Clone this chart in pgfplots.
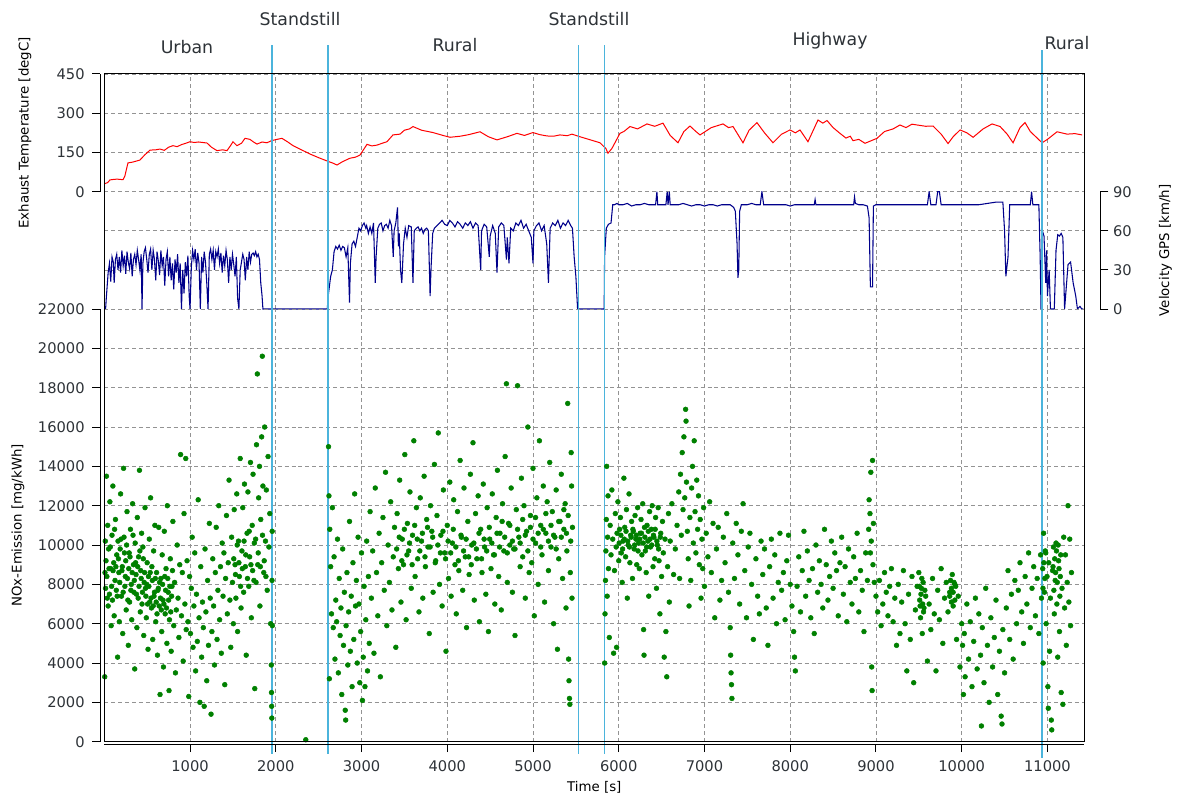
\documentclass[border=0pt]{standalone}
\usepackage{fontspec}
\setmainfont{DejaVu Sans}
\usepackage{pgfplots}
\pgfplotsset{compat=1.18}
\definecolor{tempred}{RGB}{255,0,0}
\definecolor{velblue}{RGB}{0,0,139}
\definecolor{noxgreen}{RGB}{0,128,0}
\definecolor{seg}{RGB}{75,180,220}
\definecolor{txt}{RGB}{45,50,55}
\pgfplotsset{
 base/.style={scale only axis, width=735pt, xmin=0, xmax=11430,
  anchor=south west,
  axis line style={draw=none},
  xmajorgrids, ymajorgrids,
  major grid style={gray!85, dash pattern=on 3pt off 2.2pt, line width=0.6pt},
  tick align=outside, major tick length=6pt,
  tick style={black, line width=0.7pt},
  xtick={1000,2000,...,11000},
  ticklabel style={font=\fontsize{11}{13}\selectfont, text=txt},
  /pgf/number format/assume math mode=true,
  /pgf/number format/1000 sep={},
  scaled ticks=false,
  label style={font=\fontsize{10.6}{12}\selectfont, text=txt},
 }
}
\begin{document}
\begin{tikzpicture}
\useasboundingbox (-78.225pt,-40.725pt) rectangle (806.775pt,556.275pt);
% ---------- top: exhaust temperature ----------
\begin{axis}[base, at={(0pt,412.5pt)}, height=88.3pt,
  ymin=0, ymax=450, ytick={0,150,300,450},
  xticklabels={}, xtick style={draw=none},
  ytick pos=left, ytick style={xshift=-3.2pt}, yticklabel style={xshift=-5.2pt},
  ylabel={Exhaust Temperature [degC]},
  every axis y label/.style={at={(axis description cs:-0.081,0.5)}, rotate=90, anchor=center}]
\addplot[tempred, line width=0.75pt] coordinates {
(0,30)(40,35)(66,45)(110,47)(148,48)(218,46)(240,60)(276,110)(330,113)(416,121)(470,140)(533,159)(600,160)(649,163)(700,158)(750,170)(801,176)(850,172)(900,180)(950,185)(999,191)(1050,188)(1100,190)(1198,186)(1250,170)(1314,157)(1380,160)(1431,157)(1470,175)(1501,191)(1547,176)(1600,185)(1641,204)(1699,200)(1740,190)(1781,182)(1840,190)(1897,187)(1950,195)(2014,200)(2072,204)(2140,190)(2201,176)(2300,160)(2399,144)(2500,130)(2609,116)(2660,110)(2714,102)(2780,115)(2866,128)(2930,132)(2982,140)(3064,181)(3120,175)(3180,178)(3240,185)(3297,191)(3367,217)(3449,220)(3500,235)(3560,240)(3600,249)(3700,235)(3834,226)(3950,215)(4032,208)(4150,212)(4250,218)(4382,229)(4480,210)(4580,198)(4700,210)(4813,223)(4900,215)(4999,226)(5080,218)(5163,213)(5240,212)(5314,217)(5400,214)(5454,220)(5548,210)(5650,200)(5781,187)(5850,165)(5874,147)(5920,165)(6014,223)(6060,230)(6131,249)(6220,240)(6329,259)(6420,250)(6516,262)(6600,215)(6691,187)(6760,230)(6831,251)(6900,230)(6948,217)(7080,245)(7216,259)(7280,245)(7333,249)(7449,187)(7520,235)(7612,264)(7700,225)(7799,187)(7900,220)(7997,236)(8060,225)(8114,236)(8207,191)(8324,274)(8380,262)(8429,272)(8500,245)(8580,223)(8650,205)(8700,212)(8732,195)(8800,200)(8872,185)(9012,204)(9100,230)(9200,240)(9280,255)(9350,245)(9420,258)(9479,255)(9580,250)(9666,251)(9760,220)(9841,184)(9900,210)(9981,236)(10060,225)(10133,208)(10250,240)(10354,259)(10448,249)(10530,220)(10599,187)(10680,245)(10739,264)(10800,230)(10880,205)(10937,187)(11000,200)(11112,229)(11229,220)(11320,222)(11404,217)
};
\end{axis}
% ---------- middle: velocity ----------
\begin{axis}[base, at={(0pt,324.5pt)}, height=88pt,
  ymin=0, ymax=90, ytick={0,30,60,90},
  xticklabels={}, xtick style={draw=none},
  ytick pos=right, yticklabel pos=right,
  ytick style={xshift=12pt}, yticklabel style={xshift=12pt},
  ylabel={Velocity GPS [km/h]},
  every axis y label/.style={at={(axis description cs:1.0827,0.5)}, rotate=90, anchor=center}]
\addplot[velblue, line width=0.8pt] coordinates {
(0,0)(15,0)(25,10)(45,28)(60,35)(75,21)(90,40)(105,36)(115,20)(130,38)(145,42)(160,30)(175,40)(190,28)(205,45)(220,33)(235,41)(250,27)(265,44)(280,36)(295,31)(310,43)(325,25)(340,38)(355,42)(370,34)(385,45)(400,38)(415,30)(430,42)(440,0)(450,35)(465,44)(480,47)(495,38)(510,28)(525,42)(540,46)(555,30)(570,45)(585,38)(600,22)(615,44)(630,37)(645,26)(660,45)(675,33)(690,40)(705,18)(720,38)(735,44)(750,25)(765,40)(780,22)(795,35)(810,15)(825,38)(840,28)(855,42)(870,20)(885,35)(900,0)(915,30)(930,12)(945,36)(960,25)(975,41)(990,10)(1000,0)(1015,32)(1030,45)(1045,38)(1060,46)(1075,30)(1090,43)(1105,35)(1120,0)(1135,40)(1150,28)(1165,44)(1180,36)(1195,20)(1210,0)(1225,42)(1240,46)(1255,38)(1270,45)(1285,30)(1300,44)(1315,40)(1330,46)(1345,35)(1360,43)(1375,28)(1390,41)(1405,33)(1420,45)(1435,38)(1450,20)(1465,40)(1480,30)(1495,42)(1510,34)(1525,25)(1540,40)(1555,8)(1570,0)(1585,30)(1600,36)(1615,42)(1630,38)(1645,22)(1660,40)(1675,30)(1690,44)(1705,36)(1720,42)(1735,43)(1750,41)(1765,44)(1780,40)(1795,42)(1810,38)(1825,20)(1840,10)(1850,0)(1957,0)(2600,0)
(2615,12)(2640,25)(2660,30)(2680,44)(2700,48)(2720,46)(2740,49)(2760,45)(2780,48)(2800,47)(2820,40)(2840,47)(2860,5)(2870,35)(2890,50)(2910,52)(2930,48)(2950,55)(2970,62)(2990,60)(3010,64)(3030,66)(3050,62)(3060,64)(3080,58)(3100,63)(3120,58)(3140,66)(3160,20)(3170,40)(3190,62)(3210,65)(3230,66)(3250,60)(3270,64)(3290,65)(3310,62)(3330,68)(3350,64)(3370,40)(3380,60)(3400,66)(3420,78)(3430,48)(3440,58)(3455,30)(3470,20)(3490,50)(3510,62)(3530,55)(3550,64)(3580,63)(3600,20)(3615,60)(3640,62)(3660,63)(3680,60)(3700,62)(3720,58)(3740,61)(3760,62)(3780,60)(3800,10)(3810,30)(3830,58)(3850,62)(3880,64)(3910,66)(3940,68)(3970,65)(4000,64)(4030,68)(4060,66)(4090,63)(4120,67)(4150,65)(4180,62)(4210,66)(4240,64)(4270,67)(4300,62)(4330,66)(4360,64)(4390,30)(4400,60)(4430,65)(4460,63)(4490,40)(4500,56)(4530,64)(4560,58)(4580,28)(4600,63)(4630,66)(4660,64)(4690,38)(4700,55)(4720,35)(4740,62)(4770,60)(4800,66)(4830,64)(4860,68)(4890,62)(4920,65)(4950,60)(4980,55)(5000,35)(5010,60)(5040,64)(5070,66)(5100,60)(5130,64)(5160,50)(5180,20)(5200,62)(5230,66)(5260,64)(5290,68)(5320,62)(5350,66)(5380,64)(5410,68)(5440,64)(5460,62)(5480,40)(5500,25)(5520,0)(5830,0)
(5835,40)(5855,62)(5880,65)(5910,66)(5930,80)(5950,80)(5980,81)(6000,80)(6050,80)(6100,81)(6150,79)(6200,80)(6250,80)(6300,81)(6350,80)(6400,80)(6430,80)(6445,90)(6455,80)(6500,80)(6550,80)(6565,90)(6575,80)(6590,90)(6600,80)(6650,80)(6700,80)(6750,81)(6800,80)(6850,79)(6900,80)(6950,80)(7000,79)(7050,80)(7100,80)(7150,79)(7200,80)(7250,80)(7300,80)(7340,78)(7360,75)(7380,50)(7390,24)(7400,30)(7410,75)(7430,80)(7500,80)(7550,81)(7600,80)(7650,80)(7670,90)(7690,80)(7750,80)(7800,80)(7850,80)(7900,80)(7950,80)(8000,79)(8050,80)(8100,80)(8150,80)(8200,80)(8280,80)(8290,84)(8300,80)(8400,80)(8450,80)(8500,80)(8600,80)(8700,80)(8740,80)(8750,86)(8760,81)(8800,80)(8850,80)(8900,79)(8920,70)(8935,17)(8960,17)(8970,79)(9000,80)(9100,80)(9200,80)(9300,80)(9400,80)(9500,80)(9600,80)(9620,90)(9640,80)(9700,80)(9720,90)(9740,90)(9760,80)(9800,80)(9900,80)(10000,80)(10100,80)(10200,80)(10300,81)(10400,82)(10480,82)(10500,60)(10515,25)(10540,40)(10560,80)(10600,80)(10700,80)(10800,80)(10815,90)(10830,80)(10900,80)(10915,40)(10925,0)(10940,60)(10960,56)(10980,20)(10990,45)(11000,10)(11020,30)(11035,0)(11060,0)(11080,0)(11100,45)(11120,57)(11140,56)(11160,58)(11180,55)(11200,0)(11240,34)(11270,36)(11300,20)(11330,10)(11350,0)(11380,2)(11400,0)(11420,0)
};
\end{axis}
% ---------- bottom: NOx ----------
\begin{axis}[base, at={(0pt,0pt)}, height=324.5pt, clip=false,
  ymin=0, ymax=22000, ytick={0,2000,...,22000},
  xtick pos=left, ytick pos=left,
  ytick style={xshift=-3.2pt}, yticklabel style={xshift=-5.2pt},
  xtick style={yshift=-1.8pt}, xticklabel style={yshift=-4.5pt},
  xlabel={Time [s]}, ylabel={NOx-Emission [mg/kWh]},
  every axis x label/.style={at={(axis description cs:0.5,-0.106)}, anchor=center},
  every axis y label/.style={at={(axis description cs:-0.088,0.5)}, rotate=90, anchor=center}]
\addplot[only marks, mark=*, mark size=1.8pt, mark options={draw=noxgreen, fill=noxgreen}] coordinates {
(5,3300)(15,7800)(20,9200)(25,13500)(30,8400)(40,11000)(45,6900)(50,9800)(60,7500)(65,12200)(75,8800)(80,5900)(90,10500)(95,7200)(100,13000)(110,9100)(115,6400)(125,8200)(130,11300)(140,7700)(145,9500)(155,4300)(160,10200)(170,8600)(175,6100)(185,9800)(190,12600)(200,7400)(210,8900)(215,5500)(225,13900)(230,10400)(240,7900)(250,9200)(255,6700)(265,11700)(270,8300)(280,4900)(290,9600)(295,7100)(305,10800)(315,8000)(320,6200)(330,12100)(340,9000)(345,7600)(355,3700)(360,10100)(370,8500)(380,5800)(385,11400)(395,7300)(400,9400)(410,13800)(420,6600)(425,8700)(435,10600)(440,7000)(450,9900)(460,5400)(465,8100)(475,11900)(480,7800)(490,6300)(500,9100)(510,4700)(515,8400)(525,10300)(530,7100)(540,12400)(550,6800)(555,8900)(565,5200)(575,9700)(580,7400)(590,11000)(600,6100)(610,8600)(620,4400)(625,7700)(635,10900)(640,6900)(650,2400)(660,8300)(670,5600)(675,9500)(685,7200)(690,3800)(700,10700)(710,6500)(720,8800)(730,5000)(735,12000)(745,7600)(755,2600)(760,6200)(770,9300)(780,4600)(790,7900)(800,11200)(810,5900)(820,8100)(830,3500)(840,6700)(850,10000)(860,7300)(870,5300)(880,9000)(890,14600)(900,6400)(910,8600)(920,4100)(930,11600)(940,7000)(950,14400)(955,5700)(965,9200)(975,6100)(985,2300)(995,8400)(1005,5500)(1015,7800)(1025,10400)(1035,4800)(1045,6900)(1055,9600)(1065,3600)(1075,7500)(1085,5100)(1095,12300)(1105,6300)(1115,2000)(1125,8900)(1135,4300)(1145,7100)(1155,5800)(1165,1800)(1175,9800)(1185,6600)(1195,3100)(1205,8200)(1215,4900)(1225,11100)(1235,7300)(1245,1400)(1255,5600)(1265,9300)(1275,6900)(1285,3900)(1295,8600)(1305,10900)(1315,5200)(1325,7700)(1335,12000)(1345,6200)(1355,8900)(1365,4500)(1375,10100)(1385,7400)(1395,9600)(1405,2900)(1415,8300)(1425,11500)(1435,6500)(1445,9100)(1455,13300)(1465,7200)(1475,4800)(1485,10400)(1495,8100)(1505,6000)(1515,11800)(1525,9000)(1535,7300)(1545,12600)(1555,5600)(1565,10200)(1575,8400)(1585,14400)(1595,6800)(1605,9700)(1615,11900)(1625,7600)(1635,13100)(1645,8900)(1655,4400)(1665,10600)(1675,12700)(1685,7900)(1695,9400)(1705,14200)(1715,6300)(1725,11000)(1735,13600)(1745,8200)(1755,2700)(1765,10300)(1775,15100)(1785,18700)(1790,9000)(1800,12400)(1810,14000)(1815,6900)(1825,11300)(1835,15500)(1843,19600)(1850,13000)(1860,8600)(1870,16000)(1880,10200)(1890,12800)(1900,7700)(1910,14500)(1920,9900)(1930,11600)(1940,6000)(1948,3900)(1950,2500)(1952,1800)(1954,1200)(1956,8200)(1958,10700)(1960,5900)
(8,8600)(12,10200)(35,7300)(55,8800)(70,9900)(85,7900)(102,8700)(120,10800)(135,8900)(150,7400)(165,9300)(180,8100)(195,10300)(205,8700)(220,7600)(235,9600)(245,8400)(260,10000)(275,7200)(285,8800)(300,9400)(310,7700)(325,8600)(335,10500)(350,8200)(365,9100)(375,7500)(390,8900)(405,7900)(415,9700)(430,8300)(445,7600)(455,9300)(470,8600)(485,7400)(495,8000)(505,7000)(520,7900)(535,8600)(545,7300)(560,8200)(570,6900)(585,7600)(595,8300)(605,7100)(615,6500)(630,7800)(645,8100)(655,7300)(665,6700)(680,8000)(695,7000)(705,8400)(715,7700)(725,6800)(740,8300)(750,7200)(765,7900)(775,6600)(785,7400)(795,8700)
(1510,9300)(1530,8500)(1550,10000)(1570,9100)(1590,7900)(1610,8800)(1630,10200)(1650,9500)(1670,8300)(1690,10700)(1710,9000)(1730,8700)(1750,10100)(1770,8100)(1795,9600)(1820,8900)(1845,10500)(1865,9200)(1885,8400)
(2350,100)
(2615,15000)(2620,12500)(2625,3200)(2630,10800)(2640,8900)(2650,6500)(2660,11900)(2670,5800)(2680,9400)(2690,4200)(2700,7200)(2710,6100)(2720,10300)(2730,3500)(2740,8300)(2750,5400)(2760,6800)(2770,2400)(2780,9800)(2790,4900)(2800,7600)(2810,1600)(2815,1100)(2820,5900)(2830,8600)(2840,3900)(2850,6600)(2860,11200)(2870,4600)(2880,7400)(2890,2800)(2900,9100)(2910,5200)(2920,12600)(2930,6900)(2940,8200)(2950,4000)(2960,10400)(2970,7000)(2980,3000)(2990,5600)(3000,9600)(3010,2100)(3020,4300)(3030,7900)(3040,2800)(3050,6200)(3060,10200)(3070,3600)(3080,8400)(3090,5000)(3100,11700)(3115,7300)(3130,9700)(3145,4500)(3160,12900)(3175,8600)(3190,6400)(3205,10600)(3220,3300)(3235,9100)(3250,11400)(3265,7700)(3280,13700)(3295,5900)(3310,10000)(3325,8100)(3340,12200)(3355,6700)(3370,9400)(3385,10900)(3400,4800)(3415,11600)(3430,8800)(3445,13300)(3460,7100)(3475,10300)(3490,9000)(3505,14600)(3520,6200)(3535,11100)(3550,9700)(3565,12700)(3580,7800)(3595,10500)(3610,15300)(3625,8400)(3640,11900)(3655,9300)(3670,6600)(3685,12400)(3700,10200)(3715,7300)(3730,13500)(3745,8900)(3760,11300)(3775,9900)(3790,5500)(3805,12000)(3820,10700)(3835,7600)(3850,14100)(3865,9200)(3880,11500)(3895,15700)(3910,8000)(3925,10500)(3940,6900)(3955,12800)(3970,9600)(3985,4600)(4000,11000)(4015,8300)(4030,13200)(4045,7400)(4060,10100)(4075,12300)(4090,9000)(4105,6500)(4120,11700)(4135,8700)(4150,14300)(4165,10400)(4180,7700)(4195,12900)(4210,9400)(4225,5800)(4240,11200)(4255,8500)(4270,13600)(4285,10000)(4300,15200)(4315,7200)(4330,11600)(4345,9300)(4360,12500)(4375,6100)(4390,10800)(4405,8600)(4420,13100)(4435,9900)(4450,7500)(4465,11900)(4480,5600)(4495,10300)(4510,8800)(4525,12600)(4540,9500)(4555,7000)(4570,11400)(4585,13800)(4600,8400)(4615,10600)(4630,6700)(4645,12100)(4660,9700)(4675,14500)(4690,18200)(4700,8100)(4715,11100)(4730,10000)(4745,12900)(4760,7600)(4775,9800)(4790,5400)(4805,11800)(4820,18100)(4835,10400)(4850,8900)(4865,13400)(4880,9400)(4895,12000)(4910,7300)(4925,10700)(4940,16000)(4955,8600)(4970,11500)(4985,9100)(5000,13900)(5015,6400)(5030,10100)(5045,12400)(5060,8000)(5075,15300)(5090,11000)(5105,9500)(5120,13000)(5135,7100)(5150,10600)(5165,12200)(5180,8700)(5195,14200)(5210,9900)(5225,11700)(5240,6000)(5255,10400)(5270,12800)(5285,4700)(5300,9300)(5315,11200)(5330,13600)(5345,8300)(5360,10800)(5375,12100)(5385,6800)(5395,9700)(5405,17200)(5410,11500)(5415,4200)(5420,3100)(5425,2200)(5430,1900)(5435,8600)(5440,10200)(5445,14700)(5450,13000)(5455,7300)(5460,10900)
(3410,9800)(3440,10400)(3470,9200)(3500,10800)(3530,9500)(3560,10100)(3590,9000)(3620,11000)(3650,10300)(3680,9700)(3710,10600)(3740,9400)(3770,10900)(3800,9900)(3830,10400)(3860,9100)(3890,10000)(3920,9600)(3950,10700)(3980,9300)(4010,10200)(4040,9600)(4070,10800)(4100,9900)(4130,9200)(4160,10500)(4190,9700)(4220,10300)(4250,9400)(4280,9000)(4310,10100)(4340,9800)(4370,10600)(4400,9300)(4430,10300)(4460,9700)(4490,10900)(4520,10100)(4550,9500)(4580,10600)(4610,9900)(4640,11200)(4670,10400)(4700,9600)(4730,11000)(4760,10200)(4790,9800)(4820,10800)(4850,10100)(4880,11300)(4910,10500)(4940,9700)(4970,10900)(5000,10300)(5030,11400)(5060,10600)(5090,9900)(5120,10800)(5150,11600)(5180,10200)(5210,11000)(5240,10500)(5270,9800)(5300,11200)(5330,10400)(5360,11800)(5390,10600)
(5835,4000)(5840,6500)(5845,8200)(5850,9700)(5855,11300)(5860,14000)(5865,7400)(5870,10400)(5875,12500)(5880,8800)(5890,5300)(5900,11000)(5910,9500)(5920,12800)(5930,10300)(5940,4500)(5950,8700)(5960,11600)(5970,9900)(5975,4800)(5980,10600)(5990,12200)(6000,9200)(6010,10800)(6020,11400)(6030,9600)(6040,8100)(6050,10200)(6060,13400)(6070,10900)(6080,9400)(6090,11800)(6100,7300)(6110,10000)(6120,12600)(6130,9100)(6140,10500)(6150,11200)(6160,8300)(6170,10700)(6180,9800)(6190,11500)(6200,10300)(6210,9000)(6220,11900)(6230,10100)(6240,8800)(6250,10600)(6260,11300)(6270,9500)(6280,12100)(6290,5700)(6295,4400)(6300,10900)(6310,9700)(6320,8600)(6330,11000)(6340,10200)(6350,7400)(6360,11700)(6370,9900)(6380,10800)(6390,12000)(6400,8900)(6410,10400)(6420,9300)(6430,11400)(6440,7800)(6450,10000)(6460,11900)(6470,9200)(6480,6500)(6490,10600)(6500,8400)(6510,11200)(6520,9600)(6530,4300)(6540,10300)(6550,5600)(6560,3300)(6570,8900)(6580,11600)(6590,7100)(6600,10200)(6620,12100)(6640,8500)(6660,9800)(6680,11000)(6700,12700)(6710,8300)(6720,13600)(6730,10500)(6740,14700)(6750,11800)(6760,15500)(6770,12400)(6780,16900)(6785,16300)(6790,13200)(6800,10700)(6810,9300)(6820,6900)(6830,11400)(6840,8200)(6850,12900)(6860,14000)(6870,10100)(6880,15300)(6890,11700)(6900,9600)(6910,13300)(6920,10800)(6930,12500)(6940,9000)(6950,11300)(6960,7300)(6970,10300)(6980,8800)(6990,11900)(7000,7900)(7020,10600)(7040,9400)(7060,12200)(7080,8600)(7100,11100)(7120,6300)(7140,9800)(7160,10900)(7180,7200)(7200,8200)(7220,10400)(7240,9100)(7260,11600)(7280,7600)(7300,5800)(7305,4400)(7310,3500)(7315,2900)(7320,2200)(7330,10100)(7350,8300)(7370,11100)(7390,9500)(7410,7000)(7430,10700)(7450,12100)(7470,8700)(7490,6300)(7510,9900)(7530,10600)(7550,8000)(7570,5200)(7600,9300)(7620,7400)(7640,6500)(7660,10200)(7680,8500)(7700,9800)(7720,6800)(7740,4900)(7760,8900)(7780,10300)(7800,7300)(7820,9500)(7840,6000)(7860,8100)(7880,10600)(7900,7700)(7920,8600)(7940,6200)(7960,9200)(7980,10500)(8000,8000)(8020,6900)(8040,5600)(8050,4300)(8060,3600)(8080,7900)(8100,9400)(8120,6600)(8140,8700)(8160,10700)(8180,7400)(8200,9700)(8220,8200)(8240,6300)(8260,8800)(8280,5500)(8300,10000)(8320,7600)(8340,9200)(8360,8000)(8380,6800)(8400,10800)(8420,9000)(8440,7200)(8460,8400)(8480,10200)(8500,7800)(8520,9600)(8540,8700)(8560,6400)(8580,9100)(8600,10400)(8620,7500)(8640,8900)(8660,6100)(8680,9800)(8700,8100)(8720,7000)(8740,9400)(8760,8300)(8780,10600)(8800,6600)(8820,8700)(8840,7700)(8860,5600)(8880,9600)(8900,8200)(8915,10800)(8920,12300)(8930,11600)(8935,9600)(8940,13700)(8945,10200)(8950,3800)(8955,2600)(8960,14300)(8965,9000)(8970,11100)(8980,8100)(9000,7400)(9020,6600)(9040,8200)(9060,5900)(9080,7000)(9100,8600)(9120,7600)(9140,6400)(9160,7900)(9180,8800)(9200,6100)(9220,7300)(9240,4900)(9260,8000)(9280,5500)(9300,7100)(9320,8700)(9340,6000)(9360,3600)(9380,7500)(9400,5200)(9420,8400)(9440,3000)(9460,6700)(9480,7900)(9500,8600)(9510,7200)(9520,6300)(9530,7800)(9540,5500)(9550,8100)(9560,6800)(9580,7400)(9600,4100)(9620,7000)(9640,5700)(9660,8300)(9680,6500)(9700,3600)(9720,7700)(9740,6200)(9760,8800)(9780,5000)(9800,7300)(9820,8100)(9840,6600)(9860,7600)(9880,7100)(9900,6900)(9920,8000)(9940,5200)(9960,7400)(9980,3800)(10000,6000)(10010,4900)(10020,2400)(10030,5500)(10040,3300)(10060,7000)(10080,4200)(10100,6100)(10120,2800)(10140,5100)(10160,7300)(10180,3700)(10200,6500)(10220,4400)(10230,800)(10240,5800)(10260,3000)(10280,7800)(10300,4900)(10320,2000)(10340,6300)(10360,3800)(10380,5300)(10400,7200)(10420,2400)(10440,4600)(10460,1300)(10470,900)(10480,5700)(10500,3500)(10520,6800)(10540,8700)(10560,5200)(10580,7500)(10600,4200)(10620,8200)(10640,6000)(10660,7700)(10680,9100)(10700,6600)(10720,5000)(10740,8400)(10760,7000)(10780,9600)(10800,5800)(10820,7800)(10840,8900)(10860,6400)(10880,8300)(10900,5500)(10920,9500)(10930,7300)
(6005,10100)(6025,10500)(6045,9800)(6065,10300)(6085,10700)(6105,10200)(6125,9900)(6145,10400)(6165,10800)(6185,10000)(6205,10500)(6225,9700)(6245,10300)(6265,10600)(6285,10100)(6305,10400)(6325,9900)(6345,10700)(6365,10300)(6385,10000)(6405,10500)(6425,10800)(6445,10200)(6465,9800)(6485,10400)
(9505,7900)(9515,6900)(9525,7500)(9535,8300)(9545,7000)(9555,6600)(9570,7700)(9860,7400)(9870,8200)(9880,7800)(9890,8500)(9900,7600)(9910,8100)(9920,7200)(9930,7900)
(10945,8800)(10950,4000)(10955,10600)(10965,7600)(10975,9700)(10985,6000)(10995,8400)(11005,2800)(11010,1700)(11015,9100)(11025,4600)(11035,7300)(11045,1100)(11050,600)(11060,8700)(11070,9900)(11080,6500)(11090,8200)(11100,10100)(11110,7000)(11120,4300)(11130,9200)(11140,5600)(11150,8400)(11160,2500)(11170,7800)(11180,1900)(11190,10400)(11200,6800)(11210,9500)(11220,4900)(11230,8100)(11240,12000)(11250,7100)(11260,10300)(11270,5900)(11280,8600)
(10948,7800)(10958,9100)(10970,8300)(10980,9600)(11065,8900)(11075,7700)(11085,9300)(11095,8600)(11105,9700)(11115,8100)(11125,10000)(11135,8800)(11145,7400)(11155,9500)
};
% segment boundaries
\addplot[seg, line width=1.1pt] coordinates {(1957,-600)(1957,35400)};
\addplot[seg, line width=1.1pt] coordinates {(2610,-600)(2610,35400)};
\addplot[seg, line width=1.1pt] coordinates {(5528,-600)(5528,35400)};
\addplot[seg, line width=1.1pt] coordinates {(5831,-600)(5831,35400)};
\addplot[seg, line width=1.1pt] coordinates {(10937,-820)(10937,35170)};
\end{axis}
% frame and detached axis lines
\draw[black, line width=0.75pt] (0pt,0pt) rectangle (735pt,500.8pt);
\draw[black, line width=0.75pt] (-3.2pt,0pt) -- (-3.2pt,324.5pt);
\draw[black, line width=0.75pt] (-3.2pt,412.5pt) -- (-3.2pt,500.8pt);
\draw[black, line width=0.75pt] (0pt,-1.8pt) -- (735pt,-1.8pt);
\draw[black, line width=0.75pt] (747pt,324.5pt) -- (747pt,412.5pt);
% segment labels
\begin{scope}[every node/.style={font=\fontsize{13}{15}\selectfont, text=txt, anchor=base}]
\node at (62.0pt,516.5pt) {Urban};
\node at (146.8pt,536.8pt) {Standstill};
\node at (263.0pt,517.3pt) {Rural};
\node at (363.5pt,537.5pt) {Standstill};
\node at (544.3pt,522.5pt) {Highway};
\node at (722.0pt,518.8pt) {Rural};
\end{scope}
\end{tikzpicture}
\end{document}
